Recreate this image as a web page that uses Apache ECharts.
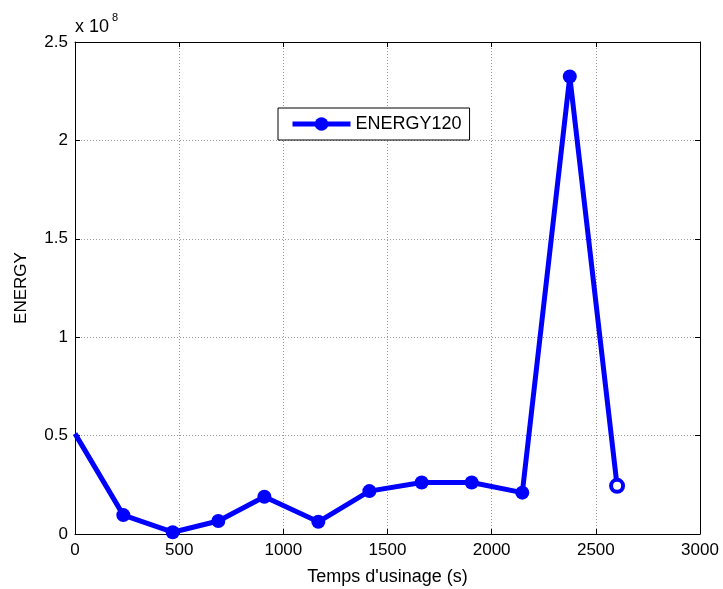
<!DOCTYPE html>
<html>
<head>
<meta charset="utf-8">
<script src="https://cdn.jsdelivr.net/npm/echarts@6/dist/echarts.min.js"></script>
<style>
  html, body { margin: 0; padding: 0; background: #fff; }
  #chart { width: 723px; height: 589px; }
</style>
</head>
<body>
<div id="chart"></div>
<script>
// values (energy in raw units, axis shows x 10^8)
const timeSec = [0, 232, 469, 688, 909, 1168, 1413, 1664, 1904, 2147, 2375, 2602]
const energy = [0.51e8, 0.096e8, 0.009e8, 0.066e8, 0.189e8, 0.062e8, 0.218e8, 0.262e8, 0.262e8, 0.21e8, 2.325e8, 0.245e8]
const xTicks = [0, 500, 1000, 1500, 2000, 2500, 3000]
const yTicks = [0, 0.5, 1, 1.5, 2, 2.5]
const seriesName = 'ENERGY120'

const blue = '#0000ff'
const font = 'Liberation Sans, Arial, sans-serif'
const fs = 17

const points = timeSec.map((t, i) => {
  const p = { value: [t, energy[i]] }
  if (i === 0) p.symbol = 'none'
  if (i === timeSec.length - 1) {
    p.itemStyle = { color: '#fff', borderColor: blue, borderWidth: 4 }
    p.symbolSize = 12
  }
  return p
})

const chart = echarts.init(document.getElementById('chart'))

const gridLine = { show: true, lineStyle: { color: '#999', type: [1, 2], width: 1 } }
const axisLine = { show: true, onZero: false, lineStyle: { color: '#000', width: 1 } }
const tick = { show: true, inside: true, length: 5, lineStyle: { color: '#000' } }

chart.setOption({
  animation: false,
  backgroundColor: '#fff',
  textStyle: { fontFamily: font },
  grid: { left: 75, right: 23, top: 42, bottom: 55, outerBoundsMode: 'none' },
  legend: {
    left: 278,
    top: 108,
    padding: [7, 8, 7, 12],
    itemWidth: 58,
    itemHeight: 17,
    itemGap: 6,
    borderColor: '#000',
    borderWidth: 1,
    backgroundColor: '#fff',
    lineStyle: { width: 5 },
    textStyle: { fontSize: 18, color: '#000', fontFamily: font },
    data: [seriesName]
  },
  graphic: [
    { type: 'text', left: 75, top: 18, style: { text: 'x 10', fontSize: 18, fill: '#000', fontFamily: font } },
    { type: 'text', left: 112, top: 12, style: { text: '8', fontSize: 11, fill: '#000', fontFamily: font } }
  ],
  xAxis: [{
    type: 'value',
    min: 0,
    max: 3000,
    interval: 500,
    name: "Temps d'usinage (s)",
    nameLocation: 'middle',
    nameGap: 34,
    nameTextStyle: { fontSize: 18, color: '#000', fontFamily: font },
    axisLine: axisLine,
    axisTick: tick,
    splitLine: gridLine,
    axisLabel: {
      fontSize: fs, color: '#000', margin: 8, fontFamily: font,
      formatter: v => String(xTicks[Math.round(v / 500)])
    }
  }, {
    type: 'value',
    position: 'top',
    min: 0,
    max: 3000,
    interval: 500,
    axisLine: axisLine,
    axisTick: tick,
    splitLine: { show: false },
    axisLabel: { show: false }
  }],
  yAxis: [{
    type: 'value',
    min: 0,
    max: 2.5e8,
    interval: 0.5e8,
    name: 'ENERGY',
    nameLocation: 'middle',
    nameGap: 45,
    nameTextStyle: { fontSize: fs, color: '#000', fontFamily: font },
    axisLine: axisLine,
    axisTick: tick,
    splitLine: gridLine,
    axisLabel: {
      fontSize: fs, color: '#000', margin: 7, fontFamily: font,
      formatter: v => String(yTicks[Math.round(v / 0.5e8)])
    }
  }, {
    type: 'value',
    position: 'right',
    min: 0,
    max: 2.5e8,
    interval: 0.5e8,
    axisLine: axisLine,
    axisTick: tick,
    splitLine: { show: false },
    axisLabel: { show: false }
  }],
  series: [{
    name: seriesName,
    type: 'line',
    data: points,
    symbol: 'circle',
    symbolSize: 14,
    showAllSymbol: true,
    lineStyle: { color: blue, width: 5 },
    itemStyle: { color: blue },
    clip: false
  }]
})
</script>
</body>
</html>
